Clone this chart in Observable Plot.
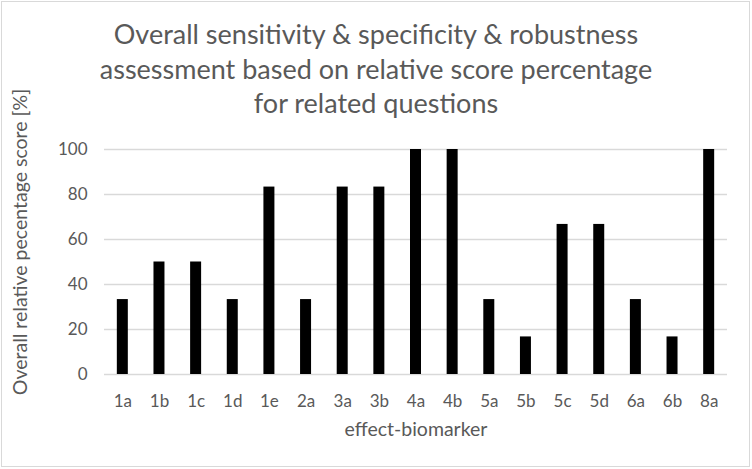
<!DOCTYPE html>
<html>
<head>
<meta charset="utf-8">
<script src="https://cdn.jsdelivr.net/npm/d3@7"></script>
<script src="https://cdn.jsdelivr.net/npm/@observablehq/plot@0.6"></script>
<style>
  html, body { margin: 0; padding: 0; background: #fff; }
  #wrap { position: relative; width: 752px; height: 469px; overflow: hidden; font-family: Lato, "Open Sans", sans-serif; }
  #frame { position: absolute; left: 1px; top: 1px; width: 747px; height: 464px; border: 1px solid #d9d9d9; pointer-events: none; }
  #title { position: absolute; left: 0; width: 752px; top: 17px; text-align: center; color: #595959; font-size: 27px; line-height: 34.5px; white-space: nowrap; }
</style>
</head>
<body>
<div id="wrap">
  <div id="chart"></div>
  <div id="title">Overall sensitivity &amp; specificity &amp; robustness<br>assessment based on relative score percentage<br>for related questions</div>
  <div id="frame"></div>
</div>
<script>
const categories = ["1a","1b","1c","1d","1e","2a","3a","3b","4a","4b","5a","5b","5c","5d","6a","6b","8a"];
const scores = [33.3, 50, 50, 33.3, 83.3, 33.3, 83.3, 83.3, 100, 100, 33.3, 16.7, 66.7, 66.7, 33.3, 16.7, 100];
const yTicks = [0, 20, 40, 60, 80, 100];
const xTitle = "effect-biomarker";
const yTitle = "Overall relative pecentage score [%]";

const data = categories.map((c, i) => ({category: c, score: scores[i]}));

const chart = Plot.plot({
  width: 752,
  height: 469,
  marginLeft: 104,
  marginRight: 25,
  marginTop: 149,
  marginBottom: 95,
  style: {fontFamily: "Lato, 'Open Sans', sans-serif", fontSize: "17px", color: "#595959", background: "transparent"},
  x: {domain: categories, paddingInner: 0.7, paddingOuter: 0.35, round: false, label: null},
  y: {domain: [0, 100], label: null},
  marks: [
    Plot.gridY(yTicks, {stroke: "#d9d9d9", strokeOpacity: 1, strokeWidth: 1.5}),
    Plot.barY(data, {x: "category", y: "score", fill: "#000"}),
    Plot.axisX({tickSize: 0, tickPadding: 20, fontSize: 17, fill: "#595959", label: null}),
    Plot.axisY(yTicks, {tickSize: 0, tickPadding: 17, fontSize: 17, fill: "#595959", label: null}),
    Plot.text([xTitle], {frameAnchor: "bottom", dy: 61, fontSize: 19.5, fill: "#595959"}),
    Plot.text([yTitle], {frameAnchor: "left", textAnchor: "middle", dx: -84, dy: -20, rotate: -90, fontSize: 19.5, fill: "#595959"})
  ]
});
document.getElementById("chart").appendChild(chart);
</script>
</body>
</html>
